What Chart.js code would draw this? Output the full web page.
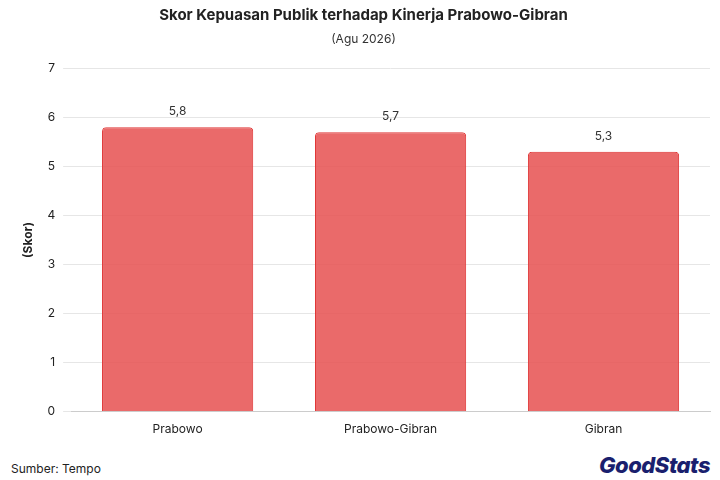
<!DOCTYPE html>
<html>
<head>
<meta charset="utf-8">
<script src="https://cdn.jsdelivr.net/npm/chart.js@4"></script>
<style>
  body { margin: 0; background: #fff; font-family: Inter, sans-serif; }
  #wrap { position: relative; width: 720px; height: 480px; }
  #box { position: absolute; left: 0; top: 0; width: 720px; height: 440px; }
  #src { position: absolute; left: 11px; top: 461px; font-size: 12px; color: #222; }
  #logo { position: absolute; right: 10px; top: 452px; font-size: 22px; font-weight: 800; font-style: italic; color: #1a1f6e; letter-spacing: -0.5px; }
</style>
</head>
<body>
<div id="wrap">
  <div id="box"><canvas id="c"></canvas></div>
  <div id="src">Sumber: Tempo</div>
  <div id="logo">GoodStats</div>
</div>
<script>
const labels = ["Prabowo", "Prabowo-Gibran", "Gibran"];
const scores = [5.8, 5.7, 5.3];

const valueLabels = {
  id: "valueLabels",
  afterDatasetsDraw(chart) {
    const ctx = chart.ctx;
    const meta = chart.getDatasetMeta(0);
    ctx.save();
    ctx.font = "12px Inter, sans-serif";
    ctx.fillStyle = "#333";
    ctx.textAlign = "center";
    meta.data.forEach((bar, i) => {
      ctx.fillText(scores[i].toString().replace(".", ","), bar.x, bar.y - 12);
    });
    ctx.restore();
  }
};

new Chart(document.getElementById("c"), {
  type: "bar",
  data: {
    labels: labels,
    datasets: [{
      data: scores,
      backgroundColor: "rgba(230, 80, 80, 0.85)",
      borderColor: "#e03838",
      borderWidth: 1,
      borderRadius: { topLeft: 4, topRight: 4 },
      borderSkipped: "bottom",
      barPercentage: 0.71,
      categoryPercentage: 1
    }]
  },
  options: {
    responsive: true,
    maintainAspectRatio: false,
    animation: false,
    layout: { padding: { left: 17, right: 10, top: 0, bottom: 0 } },
    plugins: {
      legend: { display: false },
      tooltip: { enabled: false },
      title: {
        display: true,
        text: "Skor Kepuasan Publik terhadap Kinerja Prabowo-Gibran",
        color: "#222",
        font: { family: "Inter", size: 15, weight: "bold" },
        padding: { top: 6, bottom: 8 }
      },
      subtitle: {
        display: true,
        text: "(Agu 2026)",
        color: "#333",
        font: { family: "Inter", size: 12 },
        padding: { bottom: 22 }
      }
    },
    scales: {
      x: {
        grid: { display: false },
        border: { color: "#ccc" },
        ticks: { color: "#222", font: { family: "Inter", size: 12 } }
      },
      y: {
        min: 0,
        max: 7,
        ticks: { stepSize: 1, color: "#222", font: { family: "Inter", size: 12 }, padding: 8 },
        grid: { color: "#e6e6e6" },
        border: { display: false },
        title: {
          display: true,
          text: "(Skor)",
          color: "#222",
          font: { family: "Inter", size: 12, weight: "bold" }
        }
      }
    }
  },
  plugins: [valueLabels]
});
</script>
</body>
</html>
